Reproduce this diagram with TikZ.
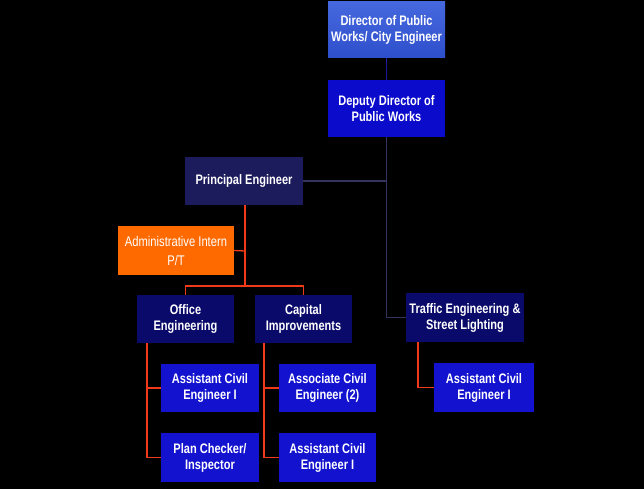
\documentclass[tikz,border=0pt]{standalone}
\usepackage{fontspec}
\setmainfont[FakeStretch=0.8]{Liberation Sans}
\definecolor{dirtop}{HTML}{4668DE}
\definecolor{dirbot}{HTML}{2E4FCB}
\definecolor{depblue}{HTML}{0B0BCC}
\definecolor{pnavy}{HTML}{1C1C5C}
\definecolor{unavy}{HTML}{0A0A6A}
\definecolor{bblue}{HTML}{1212CF}
\definecolor{orng}{HTML}{FF6A00}
\definecolor{redline}{HTML}{F03A1A}
\definecolor{navyline}{HTML}{34345C}
\definecolor{blueline}{HTML}{1A1A9A}
\tikzset{
  box/.style={inner sep=1pt, align=center, text=white, font=\bfseries\fontsize{13.8}{16}\selectfont},
  rline/.style={draw=redline, line width=1.3pt},
  nline/.style={draw=navyline, line width=1.3pt},
  bline/.style={draw=blueline, line width=1.6pt}
}
\begin{document}
\begin{tikzpicture}[x=1pt,y=-1pt]
\fill[black] (0,0) rectangle (644,489);
\useasboundingbox (0,0) rectangle (644,489);
% nodes
\node[box, top color=dirtop, bottom color=dirbot, minimum width=117pt, minimum height=56pt] (dir) at (386.5,30) {Director of Public\\Works/ City Engineer};
\node[box, fill=depblue, minimum width=117pt, minimum height=57pt] (dep) at (386.5,108.5) {Deputy Director of\\Public Works};
\node[box, fill=pnavy, minimum width=118pt, minimum height=48pt] (pe) at (244,181) {Principal Engineer};
\node[box, fill=orng, minimum width=116pt, minimum height=49pt, font=\fontsize{14}{19}\selectfont] (admin) at (176,250.5) {Administrative Intern\\P/T};
\node[box, fill=unavy, minimum width=97pt, minimum height=48pt] (office) at (185.5,319) {Office\\Engineering};
\node[box, fill=unavy, minimum width=97pt, minimum height=48pt] (capital) at (303.5,319) {Capital\\Improvements};
\node[box, fill=unavy, minimum width=118pt, minimum height=49pt] (traffic) at (465,317.5) {Traffic Engineering \&\\Street Lighting};
\node[box, fill=bblue, minimum width=98pt, minimum height=48pt] (ace1) at (210,388) {Assistant Civil\\Engineer I};
\node[box, fill=bblue, minimum width=98pt, minimum height=49pt] (plan) at (210,457.5) {Plan Checker/\\Inspector};
\node[box, fill=bblue, minimum width=97pt, minimum height=48pt] (assoc) at (327.5,388) {Associate Civil\\Engineer (2)};
\node[box, fill=bblue, minimum width=97pt, minimum height=49pt] (ace2) at (327.5,457.5) {Assistant Civil\\Engineer I};
\node[box, fill=bblue, minimum width=100pt, minimum height=49pt] (ace3) at (484,387.5) {Assistant Civil\\Engineer I};
% coordinates
\coordinate (j1) at (386.5,181);
\coordinate (j2) at (386.5,317.5);
\coordinate (p1) at (245,251);
\coordinate (p2) at (245,286);
\coordinate (ob) at (185.5,286);
\coordinate (cb) at (303.5,286);
\coordinate (o1) at (147,343);
\coordinate (o2) at (147,388);
\coordinate (o3) at (147,457.5);
\coordinate (c1) at (264,343);
\coordinate (c2) at (264,388);
\coordinate (c3) at (264,457.5);
\coordinate (t1) at (418,342);
\coordinate (t2) at (418,387.5);
\coordinate (pb) at (245,205);
% connectors
\draw[bline] (dir.south) -- (dep.north);
\draw[nline] (dep.south) -- (j1) -- (pe.east);
\draw[nline] (j1) -- (j2) -- (traffic.west);
\draw[rline] (pb) -- (p2);
\draw[rline] (p1) -- (admin.east);
\draw[rline] (office.north) -- (ob) -- (cb) -- (capital.north);
\draw[rline] (o1) -- (o3) -- (plan.west);
\draw[rline] (o2) -- (ace1.west);
\draw[rline] (c1) -- (c3) -- (ace2.west);
\draw[rline] (c2) -- (assoc.west);
\draw[rline] (t1) -- (t2) -- (ace3.west);
\end{tikzpicture}
\end{document}
